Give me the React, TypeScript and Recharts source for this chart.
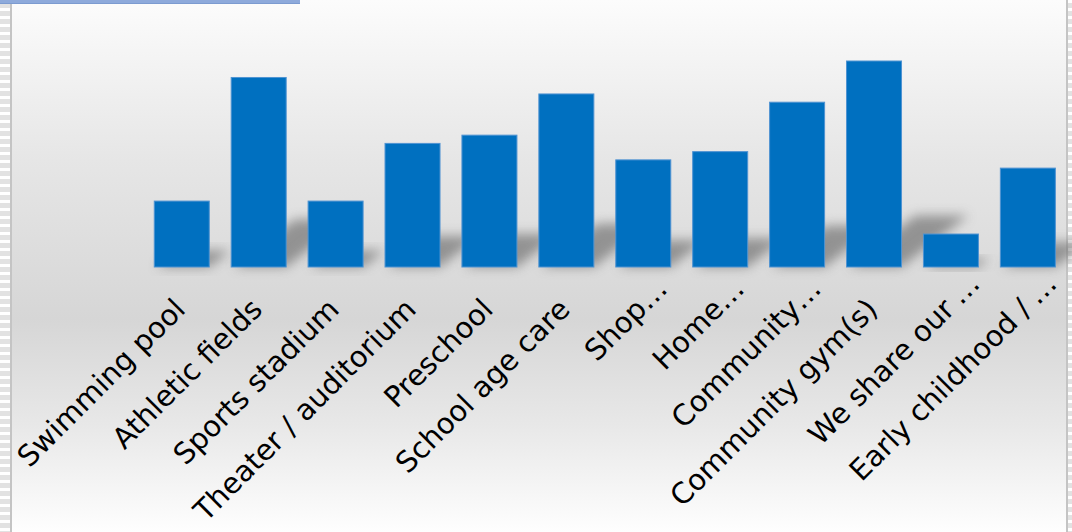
import React from 'react';
import { BarChart, Bar, XAxis, YAxis } from 'recharts';

const categories = [
  'Swimming pool',
  'Athletic fields',
  'Sports stadium',
  'Theater / auditorium',
  'Preschool',
  'School age care',
  'Shop…',
  'Home…',
  'Community…',
  'Community gym(s)',
  'We share our …',
  'Early childhood / …',
];
const counts = [8, 23, 8, 15, 16, 21, 13, 14, 20, 25, 4, 12];

const data = categories.map((name, i) => ({ name, value: counts[i] }));

const BAR_BLUE = '#0070c0';

// bar with a soft perspective shadow cast up and to the right
const ShadowBar = (props: any) => {
  const { x, y, width, height } = props;
  if (!height || height <= 0) return null;
  const base = y + height;
  const sh = height * 0.25;
  const k = sh * 1.3;
  const pts = `${x + 2},${base} ${x + width},${base} ${x + width + k},${base - sh} ${x + k + 2},${base - sh}`;
  return (
    <g>
      <polygon points={pts} fill="#606060" opacity={0.6} filter="url(#barShadow)" />
      <rect x={x} y={y} width={width} height={height} fill={BAR_BLUE} stroke="#4f93d2" strokeWidth={1} />
    </g>
  );
};

// truncated labels: the ellipsis hangs past the tick anchor, like the original
const AngledTick = (props: any) => {
  const { x, y, payload } = props;
  const tx = x + 5;
  const ty = y + 44;
  const label: string = payload.value;
  const cut = label.endsWith('…');
  const main = cut ? label.slice(0, -1).trimEnd() : label;
  const gap = cut && label.endsWith(' …') ? 7 : 0;
  const font = { fill: '#000', fontSize: 29, fontFamily: "'DejaVu Sans', Verdana, sans-serif" };
  return (
    <g transform={`rotate(-45, ${tx}, ${ty})`}>
      <text x={tx} y={ty} textAnchor="end" {...font}>
        {main}
      </text>
      {cut && (
        <text x={tx + gap} y={ty} textAnchor="start" {...font}>
          …
        </text>
      )}
    </g>
  );
};

const stripes = 'repeating-linear-gradient(to bottom, #ffffff 0px, #ffffff 3px, #e2e2e2 3px, #e2e2e2 8px)';

export default function App() {
  return (
    <div style={{ position: 'absolute', left: 0, top: 0, width: 1072, height: 532, background: '#fff', overflow: 'hidden' }}>
      {/* frame bits */}
      <div style={{ position: 'absolute', left: 0, top: 0, width: 10, height: 532, background: stripes }} />
      <div style={{ position: 'absolute', left: 10, top: 0, width: 2, height: 532, background: '#c4c4c4' }} />
      <div style={{ position: 'absolute', left: 1068, top: 0, width: 4, height: 532, background: stripes }} />
      <div style={{ position: 'absolute', left: 1066, top: 0, width: 2, height: 532, background: '#c4c4c4' }} />
      <div
        style={{
          position: 'absolute',
          left: 12,
          top: 0,
          width: 1054,
          height: 532,
          background: 'linear-gradient(to bottom, #fcfcfc 0%, #e6e6e6 30%, #d6d6d6 60%, #e8e8e8 80%, #fefefe 100%)',
        }}
      />
      <div style={{ position: 'absolute', left: 0, top: 0, width: 300, height: 3, background: '#8eaadb', borderBottom: '1px solid #7c9bd0' }} />

      <div style={{ position: 'absolute', left: 0, top: 0 }}>
        <BarChart
          width={1072}
          height={532}
          data={data}
          margin={{ top: 61, right: 5.5, left: 143.5, bottom: 0 }}
          barCategoryGap="14%"
        >
          <defs>
            <filter id="barShadow" x="-50%" y="-50%" width="200%" height="200%">
              <feGaussianBlur stdDeviation="6" />
            </filter>
          </defs>
          <YAxis hide domain={[0, 25]} />
          <XAxis
            dataKey="name"
            axisLine={false}
            tickLine={false}
            tickSize={0}
            tickMargin={0}
            interval={0}
            height={265}
            tick={<AngledTick />}
          />
          <Bar dataKey="value" fill={BAR_BLUE} shape={<ShadowBar />} isAnimationActive={false} />
        </BarChart>
      </div>
    </div>
  );
}
